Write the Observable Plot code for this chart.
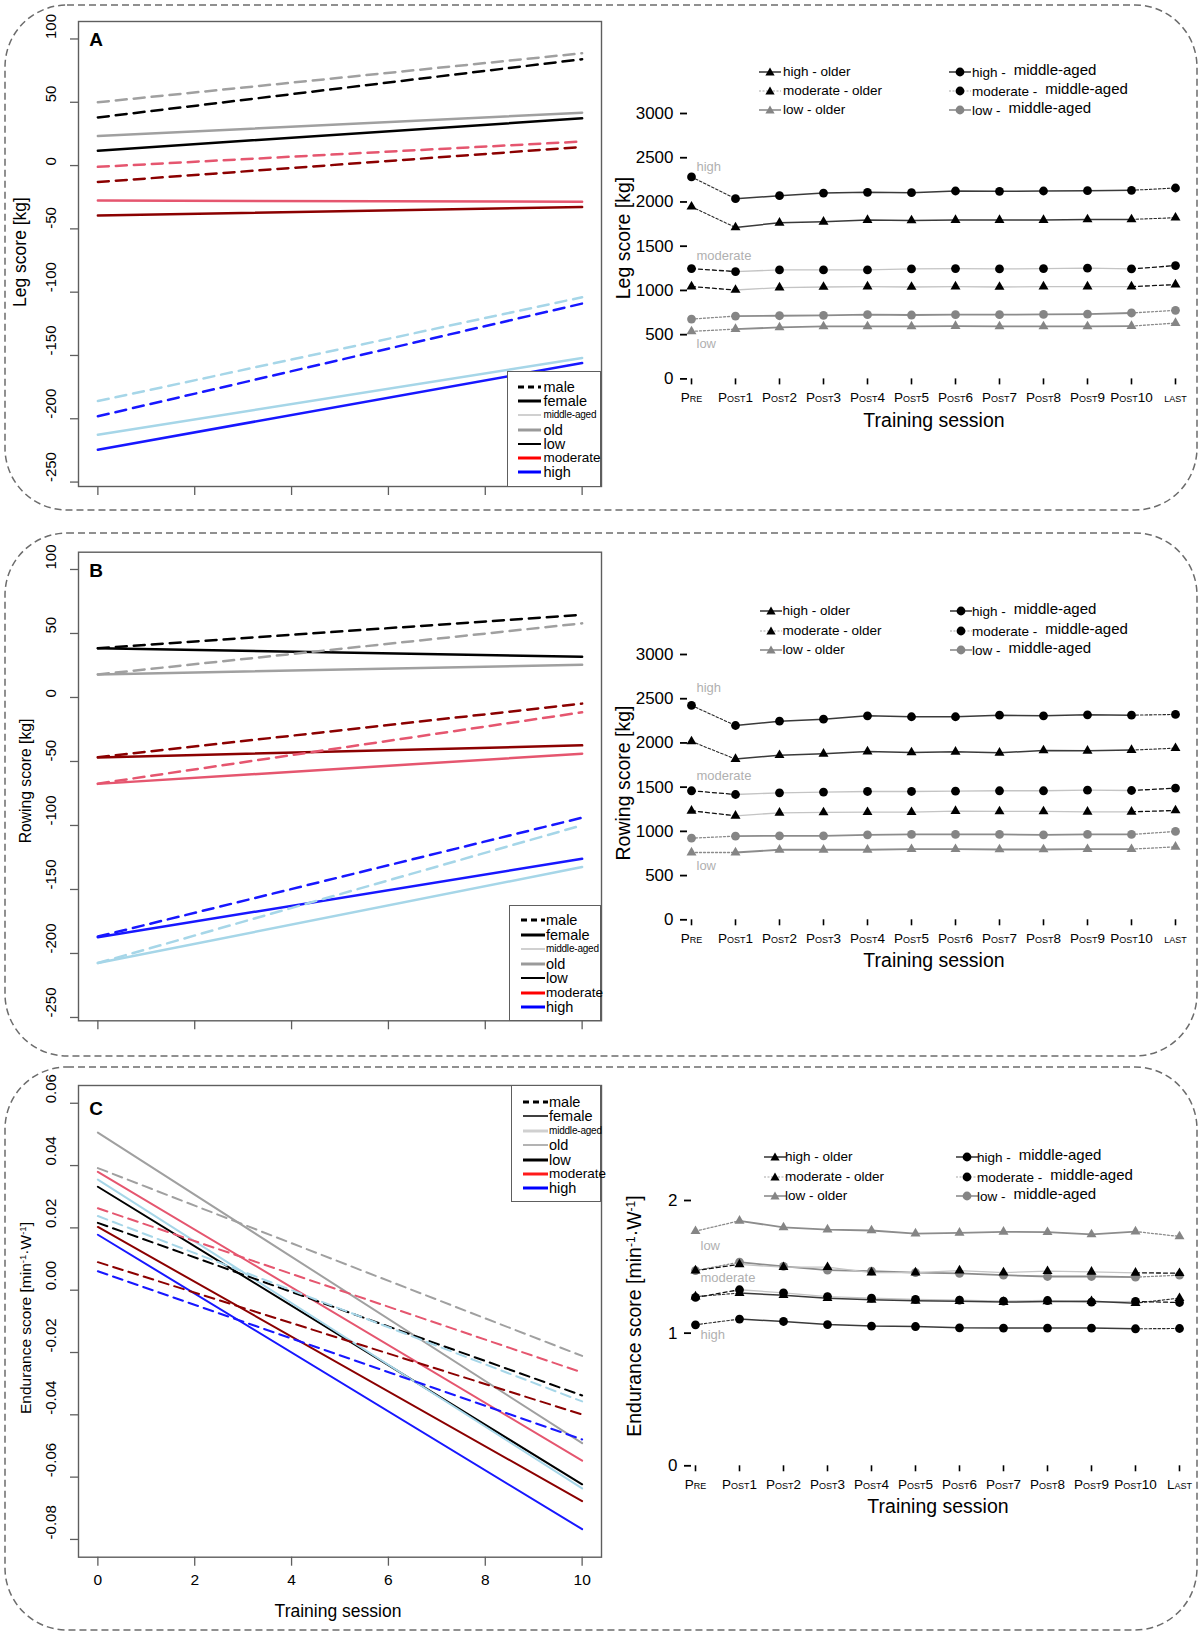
<!DOCTYPE html>
<html><head><meta charset="utf-8">
<script src="https://cdn.jsdelivr.net/npm/d3@7"></script>
<script src="https://cdn.jsdelivr.net/npm/@observablehq/plot@0.6"></script>
<style>
body{margin:0;background:#fff;}
#root{position:relative;width:1203px;height:1637px;overflow:hidden;font-family:"Liberation Sans",Arial,Helvetica,sans-serif;color:#000;}
.lbl{position:absolute;white-space:nowrap;line-height:1;}
.rchart g[aria-label="x-axis tick label"] text{font-variant:small-caps;}
sup{font-size:0.62em;vertical-align:0.55em;line-height:0;}
.lg{position:absolute;box-sizing:border-box;border:1.3px solid #5e5e5e;background:#fff;}
.lgrow{position:absolute;left:0;white-space:nowrap;line-height:1;}
</style></head>
<body><div id="root"></div>
<script>
// ---------------- DATA ----------------
const trendSessions = [0, 10];
const trendLevel = ["low","low","low","low","moderate","moderate","moderate","moderate","high","high","high","high"];
const trendShade = ["light","dark","light","dark","light","dark","light","dark","light","dark","light","dark"];
const trendSex   = ["male","male","female","female","male","male","female","female","male","male","female","female"];

const legTrendStart = [50, 38, 23.4, 11.8, -1, -13, -27.6, -39.4, -186, -198, -212.6, -224.4];
const legTrendEnd   = [88.7, 84, 41.7, 37.3, 19, 14.7, -28.6, -32.8, -104, -109, -152, -156];
const rowTrendStart = [18, 38.5, 18, 38.5, -67.3, -46.6, -67.5, -46.8, -207.5, -186.8, -207.5, -187.3];
const rowTrendEnd   = [57.9, 64.6, 25.6, 31.8, -11.6, -4.8, -43.9, -37.4, -99.8, -93.9, -132.4, -126];
const endTrendStart = [0.0392, 0.0216, 0.0506, 0.0332, 0.0263, 0.0090, 0.0380, 0.0203, 0.0238, 0.0061, 0.0355, 0.0178];
const endTrendEnd   = [-0.0211, -0.0338, -0.0491, -0.0623, -0.0264, -0.0399, -0.0547, -0.0677, -0.0357, -0.0479, -0.0636, -0.0767];

const leftYTicksAB = [100, 50, 0, -50, -100, -150, -200, -250];
const leftYTicksC = [0.06, 0.04, 0.02, 0, -0.02, -0.04, -0.06, -0.08];
const leftXTicks = [0, 2, 4, 6, 8, 10];
const leftLegendLabels = ["male","female","middle-aged","old","low","moderate","high"];

const sessions = ["PRE","POST1","POST2","POST3","POST4","POST5","POST6","POST7","POST8","POST9","POST10","LAST"];
const sessionLabelsAB = ["Pre","Post1","Post2","Post3","Post4","Post5","Post6","Post7","Post8","Post9","Post10","last"];
const sessionLabelsC  = ["Pre","Post1","Post2","Post3","Post4","Post5","Post6","Post7","Post8","Post9","Post10","Last"];
const rightYTicksAB = [0, 500, 1000, 1500, 2000, 2500, 3000];
const rightYTicksC = [0, 1, 2];

const legHighMid = [2283, 2037, 2071, 2101, 2109, 2105, 2124, 2120, 2124, 2128, 2132, 2158];
const legHighOld = [1946, 1712, 1765, 1776, 1795, 1791, 1795, 1795, 1795, 1803, 1803, 1822];
const legModMid  = [1247, 1213, 1232, 1232, 1232, 1243, 1247, 1243, 1247, 1251, 1243, 1281];
const legModOld  = [1043, 1005, 1032, 1039, 1043, 1039, 1043, 1039, 1043, 1043, 1043, 1066];
const legLowMid  = [676, 710, 714, 718, 726, 722, 726, 726, 729, 733, 745, 775];
const legLowOld  = [537, 563, 582, 593, 593, 593, 597, 593, 593, 593, 597, 631];

const rowHighMid = [2424, 2197, 2246, 2269, 2307, 2296, 2296, 2314, 2307, 2318, 2314, 2322];
const rowHighOld = [2017, 1817, 1862, 1877, 1903, 1892, 1900, 1888, 1915, 1911, 1919, 1941];
const rowModMid  = [1459, 1417, 1436, 1444, 1451, 1451, 1455, 1459, 1459, 1466, 1462, 1489];
const rowModOld  = [1233, 1176, 1210, 1214, 1217, 1217, 1229, 1225, 1225, 1221, 1221, 1236];
const rowLowMid  = [923, 946, 950, 950, 961, 965, 965, 965, 961, 965, 965, 999];
const rowLowOld  = [761, 761, 792, 792, 792, 799, 799, 795, 795, 799, 799, 825];

const endHighMid = [1.063, 1.106, 1.088, 1.065, 1.053, 1.050, 1.040, 1.038, 1.038, 1.038, 1.033, 1.035];
const endHighOld = [1.276, 1.302, 1.286, 1.264, 1.251, 1.244, 1.241, 1.234, 1.239, 1.241, 1.226, 1.264];
const endModMid  = [1.269, 1.327, 1.304, 1.276, 1.264, 1.254, 1.249, 1.241, 1.246, 1.234, 1.239, 1.231];
const endModOld  = [1.472, 1.518, 1.497, 1.497, 1.457, 1.457, 1.472, 1.457, 1.467, 1.462, 1.455, 1.452];
const endLowMid  = [1.472, 1.535, 1.503, 1.475, 1.467, 1.457, 1.450, 1.437, 1.427, 1.427, 1.422, 1.437];
const endLowOld  = [1.769, 1.847, 1.797, 1.781, 1.774, 1.751, 1.756, 1.764, 1.761, 1.744, 1.766, 1.729];

const groupLabels = ["high", "moderate", "low"];
const legGroupLabelY = [2398, 1391, 392];
const rowGroupLabelY = [2627, 1628, 611];
const endGroupLabelY = [0.987, 1.414, 1.66];

// ---------------- HELPERS ----------------
const root = document.getElementById("root");
const FONT = "'Liberation Sans', Arial, Helvetica, sans-serif";
const PLOT_STYLE = `background:transparent;overflow:visible;font-family:${FONT};color:#000;`;

function place(el, left, top) {
  el.style.position = "absolute";
  el.style.left = left + "px";
  el.style.top = top + "px";
  root.appendChild(el);
}
function addText(html, x, y, {size = 14, rotate = 0, weight = "normal", color = "#000"} = {}) {
  const d = document.createElement("div");
  d.className = "lbl";
  d.innerHTML = html;
  d.style.left = x + "px"; d.style.top = y + "px";
  d.style.fontSize = size + "px"; d.style.fontWeight = weight; d.style.color = color;
  d.style.transform = `translate(-50%,-50%) rotate(${rotate}deg)`;
  root.appendChild(d);
}

// dashed rounded panel outlines
(function boxes() {
  const ns = "http://www.w3.org/2000/svg";
  const s = document.createElementNS(ns, "svg");
  s.setAttribute("width", 1203); s.setAttribute("height", 1637);
  s.style.position = "absolute"; s.style.left = "0"; s.style.top = "0";
  [[5, 510], [533, 1056], [1067, 1630]].forEach(([t, b]) => {
    const r = document.createElementNS(ns, "rect");
    r.setAttribute("x", 5); r.setAttribute("y", t);
    r.setAttribute("width", 1192); r.setAttribute("height", b - t);
    r.setAttribute("rx", 62); r.setAttribute("ry", 62);
    r.setAttribute("fill", "none"); r.setAttribute("stroke", "#6c6c6c");
    r.setAttribute("stroke-width", 1.5); r.setAttribute("stroke-dasharray", "7,4");
    s.appendChild(r);
  });
  root.appendChild(s);
})();

// ---------------- LEFT CHARTS ----------------
const shadeColor = {
  low: {light: "#a0a0a0", dark: "#000000"},
  moderate: {light: "#e5566f", dark: "#8b0000"},
  high: {light: "#a6d6e8", dark: "#1717ff"}
};
function trendRows(start, end) {
  const rows = [];
  start.forEach((v, i) => {
    const id = trendLevel[i] + "-" + trendShade[i] + "-" + trendSex[i];
    const color = shadeColor[trendLevel[i]][trendShade[i]];
    rows.push({id, sex: trendSex[i], color, session: trendSessions[0], value: v});
    rows.push({id, sex: trendSex[i], color, session: trendSessions[1], value: end[i]});
  });
  return rows;
}
function leftChart({top, height, frameTop, frameBottom, yDomain, yTicks, yFmt, rows, lineW, dash, xLabels}) {
  const W = 610;
  const marks = [
    Plot.line(rows.filter(d => d.sex === "female"), {x: "session", y: "value", z: "id", stroke: d => d.color, strokeWidth: lineW}),
    Plot.line(rows.filter(d => d.sex === "male"), {x: "session", y: "value", z: "id", stroke: d => d.color, strokeWidth: lineW, strokeDasharray: dash}),
    Plot.frame({stroke: "#5e5e5e", strokeWidth: 1.4}),
    Plot.axisY({ticks: yTicks, tickSize: 8, tickFormat: () => "", label: null, stroke: "#5e5e5e", strokeWidth: 1.3}),
    Plot.text(yTicks, {y: d => d, text: yFmt, frameAnchor: "left", dx: -27, rotate: -90, fontSize: 15, fill: "#000"}),
    Plot.axisX({ticks: leftXTicks, tickSize: 9, tickFormat: () => "", label: null, stroke: "#5e5e5e", strokeWidth: 1.3})
  ];
  if (xLabels) marks.push(Plot.text(leftXTicks, {x: d => d, text: d => String(d), frameAnchor: "bottom", dy: 28, fontSize: 15.5, fill: "#000"}));
  const svg = Plot.plot({
    width: W, height,
    marginLeft: 78, marginRight: W - 601,
    marginTop: frameTop - top, marginBottom: top + height - frameBottom,
    x: {domain: [-0.4, 10.4]}, y: {domain: yDomain},
    color: {type: "identity"},
    style: PLOT_STYLE,
    marks
  });
  place(svg, 0, top);
}

function leftLegend(items, {left, top, width, height, offset, spacing, swX0, swX1, textX}) {
  const box = document.createElement("div");
  box.className = "lg";
  box.style.left = left + "px"; box.style.top = top + "px";
  box.style.width = width + "px"; box.style.height = height + "px";
  items.forEach((it, i) => {
    const row = document.createElement("div");
    row.className = "lgrow";
    const cy = offset + i * spacing;
    row.style.top = (cy - 7) + "px";
    row.style.height = "14px";
    row.style.width = width + "px";
    const sw = swX1 - swX0;
    row.innerHTML =
      `<svg width="${sw}" height="14" style="position:absolute;left:${swX0}px;top:0"><line x1="0" x2="${sw}" y1="7" y2="7" stroke="${it.color}" stroke-width="${it.w}" ${it.dash ? `stroke-dasharray="${it.dash}"` : ""}/></svg>` +
      `<span style="position:absolute;left:${textX}px;top:50%;transform:translateY(-50%);font-size:${it.size}px;${it.size < 12 ? "letter-spacing:-0.2px;" : ""}">${it.label}</span>`;
    box.appendChild(row);
  });
  root.appendChild(box);
}

const legItemsAB = [
  {color: "#000", w: 3, dash: "6,4", size: 14.5},
  {color: "#000", w: 3, size: 14.5},
  {color: "#d0d0d0", w: 2, size: 10},
  {color: "#9a9a9a", w: 3, size: 14.5},
  {color: "#000", w: 2, size: 14.5},
  {color: "#ff0000", w: 3, size: 13.5},
  {color: "#0000ff", w: 3, size: 14.5}
].map((d, i) => ({...d, label: leftLegendLabels[i]}));
const legItemsC = [
  {color: "#000", w: 3, dash: "6,4", size: 14.5},
  {color: "#000", w: 1.5, size: 14.5},
  {color: "#d0d0d0", w: 3, size: 10},
  {color: "#9a9a9a", w: 1.5, size: 14.5},
  {color: "#000", w: 3, size: 14.5},
  {color: "#ff1a1a", w: 3, size: 13.5},
  {color: "#0000ff", w: 3, size: 14.5}
].map((d, i) => ({...d, label: leftLegendLabels[i]}));

const fmtInt = d => String(d);
const fmt2 = d => d.toFixed(2);

leftChart({top: 0, height: 510, frameTop: 21, frameBottom: 486, yDomain: [-253.5, 113.8], yTicks: leftYTicksAB, yFmt: fmtInt,
  rows: trendRows(legTrendStart, legTrendEnd), lineW: 2.5, dash: "11,7", xLabels: false});
leftChart({top: 530, height: 520, frameTop: 551.7, frameBottom: 1020.3, yDomain: [-252.6, 113.5], yTicks: leftYTicksAB, yFmt: fmtInt,
  rows: trendRows(rowTrendStart, rowTrendEnd), lineW: 2.5, dash: "11,7", xLabels: false});
leftChart({top: 1064, height: 566, frameTop: 1085, frameBottom: 1556.7, yDomain: [-0.0857, 0.0657], yTicks: leftYTicksC, yFmt: fmt2,
  rows: trendRows(endTrendStart, endTrendEnd), lineW: 2, dash: "10,6", xLabels: true});

leftLegend(legItemsAB, {left: 507, top: 370.7, width: 94, height: 116, offset: 15, spacing: 14.3, swX0: 9.6, swX1: 33, textX: 35.5});
leftLegend(legItemsAB, {left: 509, top: 905, width: 92, height: 115.5, offset: 14, spacing: 14.5, swX0: 11, swX1: 35, textX: 36});
leftLegend(legItemsC, {left: 511, top: 1085, width: 90, height: 117, offset: 16, spacing: 14.4, swX0: 11, swX1: 36, textX: 37});

addText("A", 96, 39, {size: 19, weight: "bold"});
addText("B", 96, 570, {size: 19, weight: "bold"});
addText("C", 96, 1107.5, {size: 19, weight: "bold"});
addText("Leg score [kg]", 21, 252, {size: 17.5, rotate: -90});
addText("Rowing score [kg]", 26, 781, {size: 15.7, rotate: -90});
addText("Endurance score [min<sup>-1</sup>·W<sup>-1</sup>]", 26, 1318, {size: 15.5, rotate: -90});
addText("Training session", 338, 1612, {size: 17.5});

// ---------------- RIGHT CHARTS ----------------
const levelStyle = {
  high: {mid: {stroke: "#3a3a3a", w: 1.5}, edge: {stroke: "#2a2a2a", w: 1.1, dash: "2.5,2"}, fill: "#000"},
  moderate: {mid: {stroke: "#c4c4c4", w: 1.3}, edge: {stroke: "#111", w: 1.3, dash: "4,3"}, fill: "#000"},
  low: {mid: {stroke: "#8c8c8c", w: 1.8}, edge: {stroke: "#8c8c8c", w: 1.3, dash: "2,2"}, fill: "#858585"}
};
const STEP = 44.7;

function rightChart({y3000, y0, pre, yMax, yTicks, series, labelY, tickLabels}) {
  const last = pre + 11 * STEP;
  const left = 600, W = 603;
  const svgTop = y3000 - 14;
  const height = (y0 - svgTop) + 34;
  const rows = series.flatMap(s => s.values.map((v, i) => ({series: s.level + "-" + s.age, level: s.level, age: s.age, i, session: sessions[i], value: v})));
  const marks = [];
  for (const L of ["low", "moderate", "high"]) {
    const st = levelStyle[L];
    const r = rows.filter(d => d.level === L);
    marks.push(Plot.line(r.filter(d => d.i <= 1), {x: "session", y: "value", z: "series", stroke: st.edge.stroke, strokeWidth: st.edge.w, strokeDasharray: st.edge.dash}));
    marks.push(Plot.line(r.filter(d => d.i >= 1 && d.i <= 10), {x: "session", y: "value", z: "series", stroke: st.mid.stroke, strokeWidth: st.mid.w}));
    marks.push(Plot.line(r.filter(d => d.i >= 10), {x: "session", y: "value", z: "series", stroke: st.edge.stroke, strokeWidth: st.edge.w, strokeDasharray: st.edge.dash}));
  }
  marks.push(
    Plot.axisY({ticks: yTicks, tickSize: 7, tickPadding: 7, fontSize: 17, line: true, strokeWidth: 1.8, label: null, tickFormat: d => String(d)}),
    Plot.axisX({tickSize: 6, tickPadding: 8, fontSize: 13.5, line: true, strokeWidth: 1.6, label: null, fontVariant: "small-caps",
      tickFormat: d => tickLabels[sessions.indexOf(d)]})
  );
  for (const L of ["low", "moderate", "high"]) {
    const r = rows.filter(d => d.level === L);
    marks.push(Plot.dot(r.filter(d => d.age === "older"), {x: "session", y: "value", symbol: "triangle", r: 3.7, fill: levelStyle[L].fill}));
    marks.push(Plot.dot(r.filter(d => d.age === "middle"), {x: "session", y: "value", symbol: "circle", r: 4.4, fill: levelStyle[L].fill}));
  }
  marks.push(Plot.text(groupLabels, {x: () => sessions[0], y: (d, i) => labelY[i], text: d => d, dx: 5, textAnchor: "start", fill: "#b0b0b0", fontSize: 13}));
  const svg = Plot.plot({
    width: W, height,
    marginLeft: pre - left, marginRight: W - (last - left),
    marginTop: y3000 - svgTop, marginBottom: svgTop + height - y0,
    x: {type: "point", domain: sessions, padding: 0},
    y: {domain: [0, yMax]},
    className: "rchart",
    style: PLOT_STYLE,
    marks
  });
  place(svg, left, svgTop);
}

function swatchSVG(level, age) {
  const st = levelStyle[level];
  let line;
  if (level === "high") line = `<line x1="0" x2="22" y1="6" y2="6" stroke="#333" stroke-width="1.5"/>`;
  else if (level === "moderate") line = `<line x1="0" x2="22" y1="6" y2="6" stroke="#a8a8a8" stroke-width="1.2" stroke-dasharray="2,1.5"/>`;
  else line = `<line x1="0" x2="22" y1="6" y2="6" stroke="#8c8c8c" stroke-width="1.6"/>`;
  const mk = age === "older"
    ? `<polygon points="11,1.6 15.6,9.6 6.4,9.6" fill="${st.fill}"/>`
    : `<circle cx="11" cy="6" r="4.4" fill="${st.fill}"/>`;
  return `<svg width="22" height="12" style="position:absolute;left:0;top:0;overflow:visible">${line}${mk}</svg>`;
}
function rightLegend({rowsY, col1Sw, col1Text, col2Sw, col2Text}) {
  const levels = ["high", "moderate", "low"];
  levels.forEach((L, i) => {
    const y = rowsY[i];
    const a = document.createElement("div");
    a.className = "lbl";
    a.style.left = col1Sw + "px"; a.style.top = (y - 6) + "px"; a.style.height = "12px";
    a.innerHTML = swatchSVG(L, "older") +
      `<span style="position:absolute;left:${col1Text - col1Sw}px;top:50%;transform:translateY(-50%);font-size:13.5px;white-space:nowrap">${L} - older</span>`;
    root.appendChild(a);
    const b = document.createElement("div");
    b.className = "lbl";
    b.style.left = col2Sw + "px"; b.style.top = (y - 6) + "px"; b.style.height = "12px";
    b.innerHTML = swatchSVG(L, "middle") +
      `<span style="position:absolute;left:${col2Text - col2Sw}px;top:50%;transform:translateY(-50%);font-size:13.5px;white-space:nowrap">${L} -<span style="font-size:15px;margin-left:8px;position:relative;top:-2px">middle-aged</span></span>`;
    root.appendChild(b);
  });
}

const seriesFor = (hm, ho, mm, mo, lm, lo) => [
  {level: "low", age: "older", values: lo}, {level: "low", age: "middle", values: lm},
  {level: "moderate", age: "older", values: mo}, {level: "moderate", age: "middle", values: mm},
  {level: "high", age: "older", values: ho}, {level: "high", age: "middle", values: hm}
];

rightChart({y3000: 112.6, y0: 378, pre: 687, yMax: 3000, yTicks: rightYTicksAB,
  series: seriesFor(legHighMid, legHighOld, legModMid, legModOld, legLowMid, legLowOld), labelY: legGroupLabelY, tickLabels: sessionLabelsAB});
rightChart({y3000: 653.7, y0: 919, pre: 687, yMax: 3000, yTicks: rightYTicksAB,
  series: seriesFor(rowHighMid, rowHighOld, rowModMid, rowModOld, rowLowMid, rowLowOld), labelY: rowGroupLabelY, tickLabels: sessionLabelsAB});
rightChart({y3000: 1200, y0: 1465.3, pre: 691, yMax: 2, yTicks: rightYTicksC,
  series: seriesFor(endHighMid, endHighOld, endModMid, endModOld, endLowMid, endLowOld), labelY: endGroupLabelY, tickLabels: sessionLabelsC});

rightLegend({rowsY: [72.3, 91.3, 110.3], col1Sw: 759, col1Text: 783, col2Sw: 949, col2Text: 972});
rightLegend({rowsY: [611, 630.7, 650], col1Sw: 760, col1Text: 782.5, col2Sw: 950, col2Text: 972});
rightLegend({rowsY: [1157, 1177, 1196], col1Sw: 764, col1Text: 785, col2Sw: 955.5, col2Text: 977});

addText("Leg score [kg]", 624, 238, {size: 19.5, rotate: -90});
addText("Rowing score [kg]", 624, 783, {size: 19.5, rotate: -90});
addText("Endurance score [min<sup>-1</sup>·W<sup>-1</sup>]", 635, 1316, {size: 19.5, rotate: -90});
addText("Training session", 934, 421, {size: 19.5});
addText("Training session", 934, 961, {size: 19.5});
addText("Training session", 938, 1507, {size: 19.5});
</script>
</body></html>
